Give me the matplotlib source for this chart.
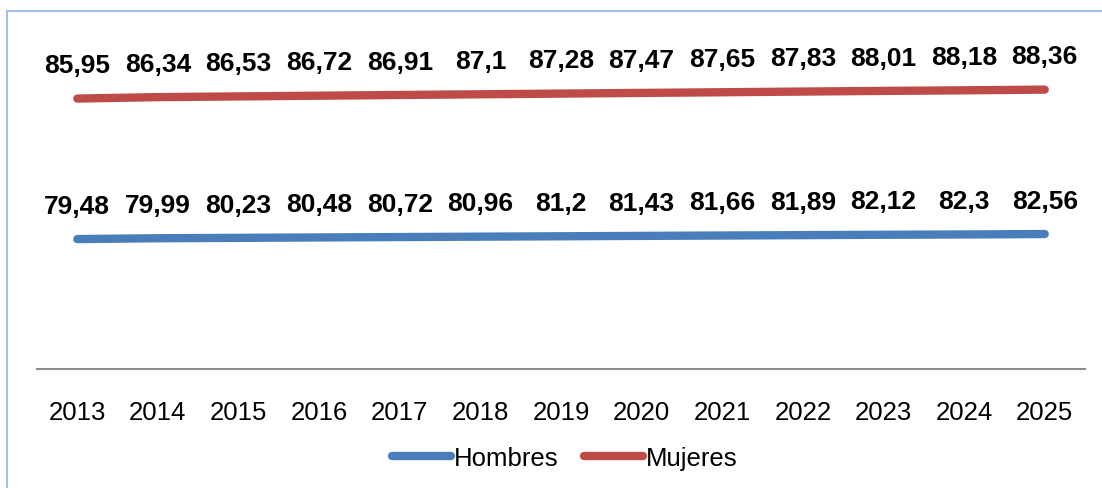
import numpy as np
import matplotlib.pyplot as plt
from matplotlib.patches import Rectangle

plt.rcParams['font.family'] = ['Liberation Sans', 'DejaVu Sans']

years = ["2013", "2014", "2015", "2016", "2017", "2018", "2019",
         "2020", "2021", "2022", "2023", "2024", "2025"]
hombres = [79.48, 79.99, 80.23, 80.48, 80.72, 80.96, 81.2,
           81.43, 81.66, 81.89, 82.12, 82.3, 82.56]
mujeres = [85.95, 86.34, 86.53, 86.72, 86.91, 87.1, 87.28,
           87.47, 87.65, 87.83, 88.01, 88.18, 88.36]

blue = "#4A7EBB"
red = "#BE4B48"

W, H = 1102, 489
fig = plt.figure(figsize=(W / 100, H / 100), dpi=100)
# light blue frame (cut off at right and bottom like the reference)
fig.patches.append(Rectangle((7 / W, -0.1), 1.2, 1 - 12 / H + 0.1,
                             transform=fig.transFigure, fill=False,
                             edgecolor="#A7C0E8", linewidth=1.5))

ax = fig.add_axes([37 / W, 1 - 370 / H, 1048 / W, 340 / H])
x = np.arange(len(years))

# stacked line chart: mujeres plotted on top of hombres
h = np.array(hombres)
m = h + np.array(mujeres)

ax.plot(x, h, color=blue, lw=6, solid_capstyle="round", label="Hombres")
ax.plot(x, m, color=red, lw=6, solid_capstyle="round", label="Mujeres")

def fmt(v):
    return str(v).replace(".", ",")

for i in range(len(x)):
    ax.annotate(fmt(hombres[i]), (x[i], h[i]), xytext=(0, 24), textcoords="offset points",
                ha="center", va="center", fontsize=19, fontweight="bold")
    ax.annotate(fmt(mujeres[i]), (x[i], m[i]), xytext=(0, 24), textcoords="offset points",
                ha="center", va="center", fontsize=19, fontweight="bold")

ax.set_xlim(-0.5, len(years) - 0.5)
ax.set_ylim(0, 208)
ax.set_xticks(x)
ax.set_xticklabels(years, fontsize=18.5)
ax.tick_params(axis="x", length=0, pad=22)
ax.set_yticks([])
for s in ["top", "right", "left"]:
    ax.spines[s].set_visible(False)
ax.spines["bottom"].set_color("#8C8C8C")
ax.spines["bottom"].set_linewidth(1.5)

leg = fig.legend(loc="center", bbox_to_anchor=(565 / W, 1 - 459 / H), ncol=2,
                 frameon=False, fontsize=18.5, handlelength=2.3, handletextpad=0.1,
                 columnspacing=1.0)
for ln in leg.get_lines():
    ln.set_linewidth(6)
    ln.set_solid_capstyle("round")

fig.savefig("out.png", dpi=100)
